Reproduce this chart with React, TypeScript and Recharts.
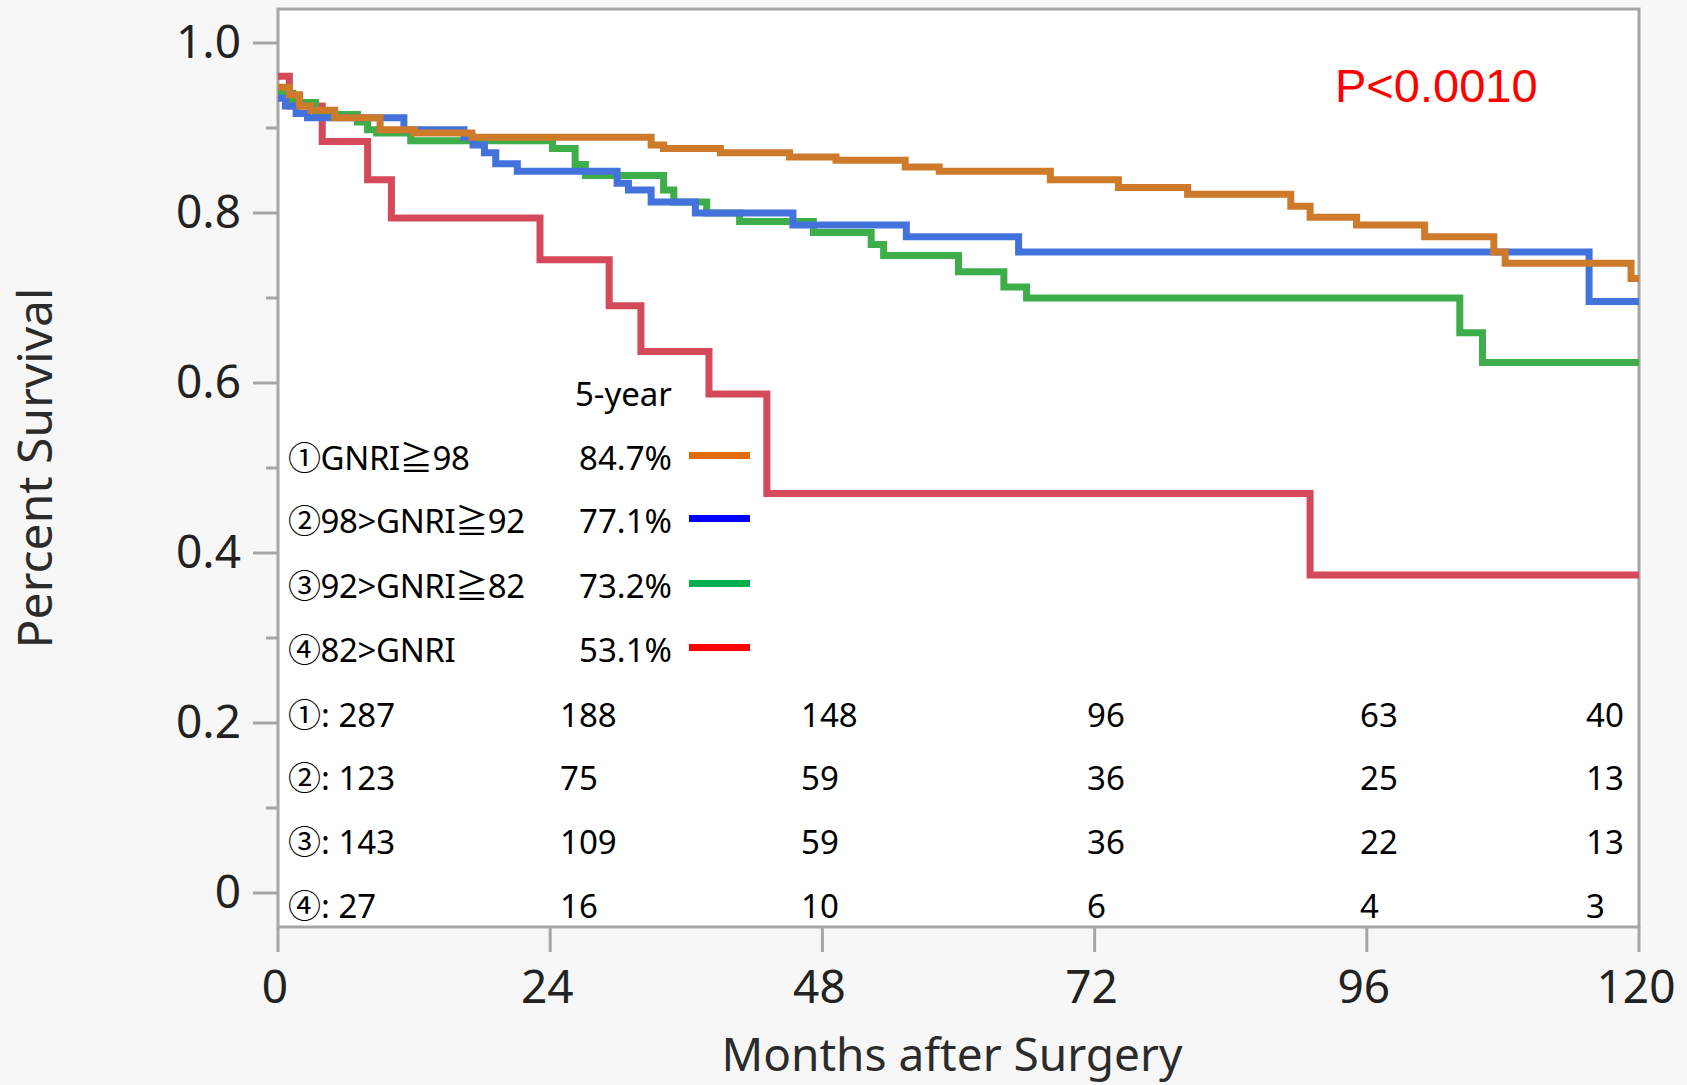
import { LineChart, Line, XAxis, YAxis, CartesianGrid, ReferenceArea } from "recharts"

// Kaplan-Meier steps (months after surgery, survival)
const months1 = [0, 1.0, 1.9, 2.9, 5.0, 9.0, 12.0, 17.1, 32.9, 34.0, 39.0, 45.1, 49.2, 55.3, 58.3, 68.1, 74.1, 80.2, 89.3, 91.0, 95.1, 101.1, 107.2, 108.2, 119.3, 120]
const surv1 = [0.948, 0.939, 0.926, 0.921, 0.912, 0.898, 0.894, 0.889, 0.88, 0.876, 0.871, 0.866, 0.862, 0.854, 0.849, 0.839, 0.83, 0.822, 0.808, 0.795, 0.786, 0.772, 0.754, 0.741, 0.723, 0.723]

const months2 = [0, 0.65, 1.6, 2.6, 11.1, 16.4, 17.2, 18.2, 19.2, 21.1, 29.9, 30.9, 32.9, 36.8, 45.4, 55.4, 65.3, 115.6, 120]
const surv2 = [0.935, 0.926, 0.917, 0.912, 0.898, 0.889, 0.88, 0.871, 0.858, 0.849, 0.835, 0.827, 0.813, 0.8, 0.786, 0.772, 0.754, 0.696, 0.696]

const months3 = [0, 1.3, 3.3, 7.0, 7.9, 8.7, 11.7, 24.2, 26.2, 27.1, 34.0, 34.9, 37.8, 40.7, 47.2, 52.3, 53.4, 60.0, 64.0, 66.0, 104.2, 106.2, 120]
const surv3 = [0.941, 0.93, 0.916, 0.907, 0.898, 0.894, 0.885, 0.876, 0.857, 0.844, 0.827, 0.813, 0.8, 0.79, 0.777, 0.763, 0.75, 0.731, 0.713, 0.7, 0.659, 0.624, 0.624]

const months4 = [0, 1.0, 3.9, 7.9, 10.0, 23.1, 29.2, 32.0, 38.0, 43.1, 91.0, 120]
const surv4 = [0.961, 0.926, 0.884, 0.839, 0.794, 0.745, 0.691, 0.637, 0.587, 0.47, 0.374, 0.374]

const monthTicks = [0, 24, 48, 72, 96, 120]
const survivalTicks = [0, 0.1, 0.2, 0.3, 0.4, 0.5, 0.6, 0.7, 0.8, 0.9, 1.0]

const groupLabels = ["①GNRI≧98", "②98>GNRI≧92", "③92>GNRI≧82", "④82>GNRI"]
const fiveYear = ["84.7%", "77.1%", "73.2%", "53.1%"]
const curveColors = ["#cd7a2a", "#4472dd", "#3dae49", "#d44a5a"]
const swatchColors = ["#e36c0a", "#0000ff", "#00b050", "#ff0000"]

const riskRowLabels = ["①: ", "②: ", "③: ", "④: "]
const atRisk1 = [287, 188, 148, 96, 63, 40]
const atRisk2 = [123, 75, 59, 36, 25, 13]
const atRisk3 = [143, 109, 59, 36, 22, 13]
const atRisk4 = [27, 16, 10, 6, 4, 3]
const atRisk = [atRisk1, atRisk2, atRisk3, atRisk4]

const toPoints = (ms: number[], ss: number[]) => ms.map((m, i) => ({ m, s: ss[i] }))

const FONT = "'Noto Sans', 'Noto Sans CJK JP', sans-serif"
const AXIS_GRAY = "#a6a6a6"

function YTick(props: any) {
  const { x, y, payload } = props
  const major = Math.round(payload.value * 10) % 2 === 0
  const label = payload.value === 0 ? "0" : payload.value.toFixed(1)
  return (
    <g>
      <line x1={x - (major ? 25 : 12)} x2={x} y1={y} y2={y} stroke={AXIS_GRAY} strokeWidth={3} />
      {major && (
        <text x={x - 37} y={y - 3} textAnchor="end" dominantBaseline="central" fontSize={46} fill="#222" fontFamily={FONT}>
          {label}
        </text>
      )}
    </g>
  )
}

function XTick(props: any) {
  const { x, y, payload } = props
  return (
    <g>
      <line x1={x} x2={x} y1={y} y2={y + 25} stroke={AXIS_GRAY} strokeWidth={3} />
      <text x={x - 3} y={y + 58} textAnchor="middle" dominantBaseline="central" fontSize={46} fill="#222" fontFamily={FONT}>
        {payload.value}
      </text>
    </g>
  )
}

const legendBase = [470, 533, 598, 662]
const riskBase = [727, 790, 854, 918]
const riskCols = [288, 560, 801, 1087, 1360, 1586]

export default function App() {
  return (
    <div style={{ position: "absolute", left: 0, top: 0, width: 1687, height: 1085, background: "#f7f7f7", fontFamily: FONT }}>
      <LineChart width={1687} height={1085} margin={{ top: 9, right: 48, bottom: 0, left: 0 }}>
        <CartesianGrid horizontal={false} vertical={false} fill="#ffffff" />
        <XAxis
          dataKey="m"
          type="number"
          domain={[0, 120]}
          ticks={monthTicks}
          height={158}
          axisLine={false}
          tickLine={false}
          tickSize={0}
          tickMargin={0}
          tick={<XTick />}
          allowDuplicatedCategory={false}
        />
        <YAxis
          type="number"
          domain={[-0.04, 1.04]}
          ticks={survivalTicks}
          width={278}
          axisLine={false}
          tickLine={false}
          tickSize={0}
          tickMargin={0}
          tick={<YTick />}
          interval={0}
        />
        <ReferenceArea x1={0} x2={120} y1={-0.04} y2={1.04} fill="none" stroke={AXIS_GRAY} strokeWidth={3} fillOpacity={0} />
        <Line data={toPoints(months4, surv4)} dataKey="s" type="stepAfter" stroke={curveColors[3]} strokeWidth={7} dot={false} isAnimationActive={false} />
        <Line data={toPoints(months3, surv3)} dataKey="s" type="stepAfter" stroke={curveColors[2]} strokeWidth={7} dot={false} isAnimationActive={false} />
        <Line data={toPoints(months2, surv2)} dataKey="s" type="stepAfter" stroke={curveColors[1]} strokeWidth={7} dot={false} isAnimationActive={false} />
        <Line data={toPoints(months1, surv1)} dataKey="s" type="stepAfter" stroke={curveColors[0]} strokeWidth={7} dot={false} isAnimationActive={false} />
      </LineChart>

      <svg width={1687} height={1085} style={{ position: "absolute", left: 0, top: 0, pointerEvents: "none" }}>
        <text x={1335} y={102} fontSize={47} fill="#ff0000" fontFamily="'Liberation Sans', Arial, sans-serif">P&lt;0.0010</text>

        <text x={672} y={406} fontSize={33} textAnchor="end" fill="#000">5-year</text>
        {groupLabels.map((g, i) => (
          <g key={g}>
            <text x={288} y={legendBase[i]} fontSize={33} fill="#000" letterSpacing={-0.4}>{g}</text>
            <text x={672} y={legendBase[i]} fontSize={33} textAnchor="end" fill="#000">{fiveYear[i]}</text>
            <rect x={689} y={legendBase[i] - 18} width={61} height={7} fill={swatchColors[i]} />
          </g>
        ))}

        {atRisk.map((row, r) => (
          <g key={r}>
            {row.map((n, c) => (
              <text key={c} x={riskCols[c]} y={riskBase[r]} fontSize={33} fill="#000">
                {c === 0 ? riskRowLabels[r] + n : n}
              </text>
            ))}
          </g>
        ))}

        <text x={952} y={1071} fontSize={46} textAnchor="middle" fill="#2b2b2b">Months after Surgery</text>
        <text x={33} y={468} fontSize={48} textAnchor="middle" dominantBaseline="central" fill="#2b2b2b" transform="rotate(-90, 33, 468)">
          Percent Survival
        </text>
      </svg>
    </div>
  )
}
